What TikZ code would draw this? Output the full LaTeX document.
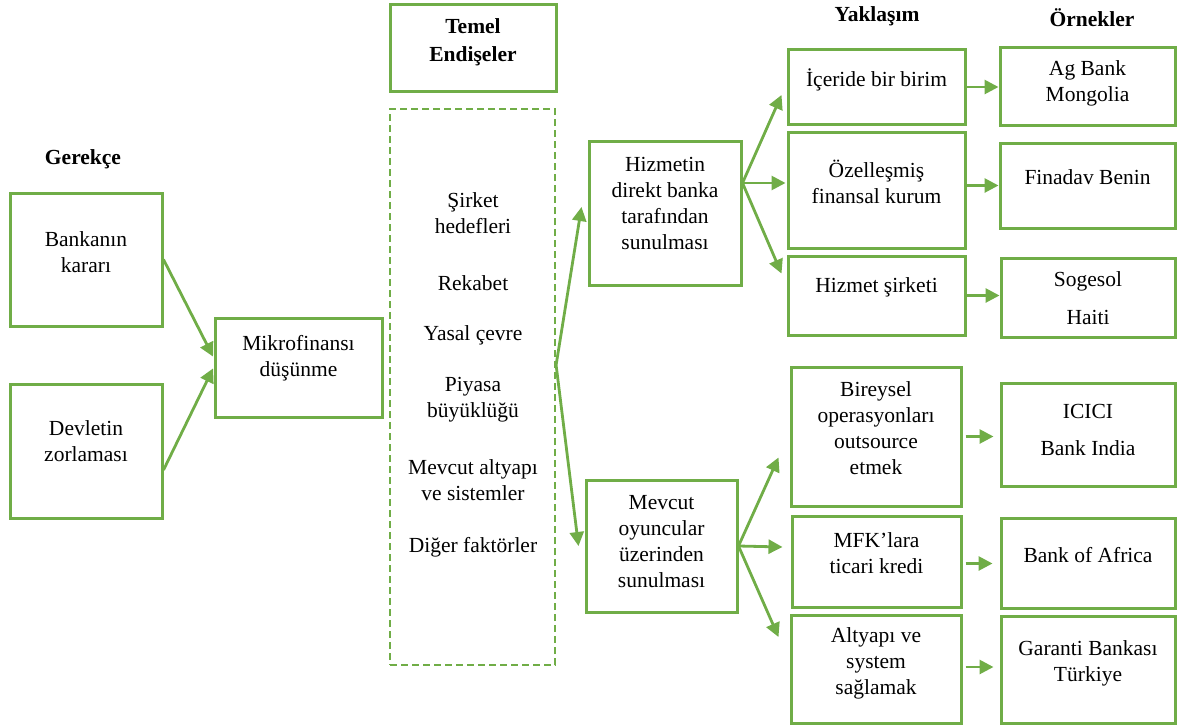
\documentclass[tikz,border=0pt]{standalone}
\usepackage{fontspec}
\setmainfont{Liberation Serif}
\usetikzlibrary{arrows.meta}
\definecolor{leaf}{HTML}{70AD47}
\begin{document}
\begin{tikzpicture}[x=1pt,y=-1pt,
  box/.style={draw=leaf, line width=3pt, rectangle, inner sep=0pt},
  txt/.style={align=center, font=\fontsize{21.5}{26}\selectfont, inner sep=0pt, text=black},
  head/.style={align=center, font=\fontsize{21.5}{28}\selectfont\bfseries, inner sep=0pt, text=black},
  link/.style={draw=leaf, line width=2.8pt, -{Triangle[length=14pt,width=14pt]}},
]
\useasboundingbox (0,0) rectangle (1177,725);

% column headings
\node[head] (h-ger) at (83,159) {Gerekçe};
\node[head] (h-yak) at (877,16) {Yaklaşım};
\node[head] (h-orn) at (1092,18) {Örnekler};

% reasons
\node[box, minimum width=152pt, minimum height=133pt] (bank) at (86,259.5) {};
\node[txt] (bank-t) at (86,252) {Bankanın\\kararı};
\node[box, minimum width=152pt, minimum height=134pt] (devlet) at (86,451) {};
\node[txt] (devlet-t) at (86,441) {Devletin\\zorlaması};

\node[box, minimum width=167pt, minimum height=99pt] (mikro) at (298.5,367.5) {};
\node[txt] (mikro-t) at (298.5,358.5) {Mikrofinansı\\düşünme};

% main concerns
\node[box, minimum width=166pt, minimum height=86pt] (temel) at (473,48) {};
\node[head] (temel-t) at (473,42) {Temel\\Endişeler};
\node[box, dashed, dash pattern=on 7pt off 4pt, line width=2.2pt,
      minimum width=165pt, minimum height=556pt] (concerns) at (472.5,387) {};
\node[txt] (c1) at (473,213) {Şirket\\hedefleri};
\node[txt] (c2) at (473,283) {Rekabet};
\node[txt] (c3) at (473,335) {Yasal çevre};
\node[txt] (c4) at (473,400) {Piyasa\\büyüklüğü};
\node[txt] (c5) at (473,480.5) {Mevcut altyapı\\ve sistemler};
\node[txt] (c6) at (473,547) {Diğer faktörler};

% delivery channels
\node[box, minimum width=152pt, minimum height=144pt] (hizmetin) at (665,213) {};
\node[txt] (hizmetin-t) at (665,203.5) {Hizmetin\\direkt banka\\tarafından\\sunulması};
\node[box, minimum width=151pt, minimum height=132pt] (mevcut) at (661.5,546) {};
\node[txt] (mevcut-t) at (661.5,541.5) {Mevcut\\oyuncular\\üzerinden\\sunulması};

% approaches
\node[box, minimum width=177pt, minimum height=74pt] (iceride) at (876.5,87) {};
\node[txt] (iceride-t) at (876.5,80) {İçeride bir birim};
\node[box, minimum width=177pt, minimum height=116pt] (ozel) at (876.5,190) {};
\node[txt] (ozel-t) at (876.5,181.5) {Özelleşmiş\\finansal kurum};
\node[box, minimum width=177pt, minimum height=79pt] (hizmet) at (876.5,295.5) {};
\node[txt] (hizmet-t) at (876.5,287) {Hizmet şirketi};
\node[box, minimum width=170pt, minimum height=139pt] (bireysel) at (876,436.5) {};
\node[txt] (bireysel-t) at (876,428.5) {Bireysel\\operasyonları\\outsource\\etmek};
\node[box, minimum width=169pt, minimum height=91pt] (mfk) at (876.5,561.5) {};
\node[txt] (mfk-t) at (876.5,553) {MFK’lara\\ticari kredi};
\node[box, minimum width=170pt, minimum height=108pt] (altyapi) at (876,669) {};
\node[txt] (altyapi-t) at (876,663) {Altyapı ve\\system\\sağlamak};

% examples
\node[box, minimum width=175pt, minimum height=77pt] (agbank) at (1087.5,86.5) {};
\node[txt] (agbank-t) at (1087.5,83) {Ag Bank\\Mongolia};
\node[box, minimum width=175pt, minimum height=85pt] (finadav) at (1087.5,185.5) {};
\node[txt] (finadav-t) at (1087.5,177) {Finadav Benin};
\node[box, minimum width=174pt, minimum height=79pt] (sogesol) at (1088,297.5) {};
\node[txt] (sogesol-t) at (1088,298) {Sogesol\\[12pt]Haiti};
\node[box, minimum width=174pt, minimum height=103pt] (icici) at (1088,434.5) {};
\node[txt] (icici-t) at (1088,429.5) {ICICI\\[11pt]Bank India};
\node[box, minimum width=174pt, minimum height=90pt] (africa) at (1088,563) {};
\node[txt] (africa-t) at (1088,555) {Bank of Africa};
\node[box, minimum width=174pt, minimum height=107pt] (garanti) at (1088,669.5) {};
\node[txt] (garanti-t) at (1088,663) {Garanti Bankası\\Türkiye};

% reasons -> microfinance
\draw[link, shorten >=1pt] (bank.east) -- ([yshift=10pt]mikro.west);
\draw[link, shorten >=1pt] ([yshift=-19pt]devlet.east) -- (mikro.west);

% concerns -> channels
\coordinate (split) at ([yshift=22pt]concerns.east);
\draw[link] (split) -- ([xshift=-6pt,yshift=6pt]hizmetin.west);
\draw[link] (split) -- ([xshift=-6pt]mevcut.west);

% channels -> approaches
\coordinate (hfan) at ([yshift=30pt]hizmetin.east);
\draw[link] (hfan) -- ([xshift=-5pt,yshift=-8pt]iceride.west);
\draw[link] (hfan) -- ([xshift=-1pt,yshift=7pt]ozel.west);
\draw[link] (hfan) -- ([xshift=-5pt,yshift=22pt]hizmet.west);
\draw[link] (mevcut.east) -- ([xshift=-11pt,yshift=-21pt]bireysel.west);
\draw[link] (mevcut.east) -- ([xshift=-8pt,yshift=14.5pt]mfk.west);
\draw[link] (mevcut.east) -- ([xshift=-11pt,yshift=32pt]altyapi.west);

% approaches -> examples
\draw[link] (iceride.east) -- (iceride.east -| agbank.west);
\draw[link] (ozel.east |- finadav.west) -- (finadav.west);
\draw[link] (hizmet.east) -- (hizmet.east -| sogesol.west);
\draw[link, shorten <=3pt, shorten >=6pt] (bireysel.east) -- (bireysel.east -| icici.west);
\draw[link, shorten <=3pt, shorten >=7pt] ([yshift=-2pt]mfk.east) -- ([yshift=-2pt]mfk.east -| africa.west);
\draw[link, shorten <=3pt, shorten >=6pt] ([yshift=2pt]altyapi.east) -- ([yshift=2pt]altyapi.east -| garanti.west);
\end{tikzpicture}
\end{document}
